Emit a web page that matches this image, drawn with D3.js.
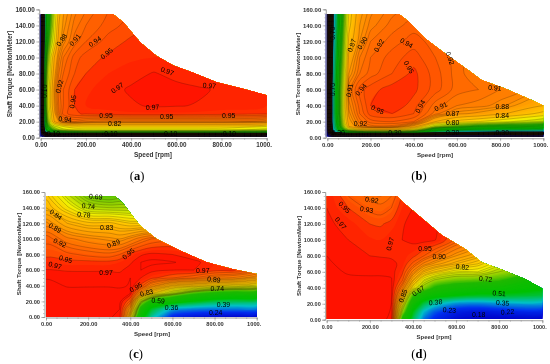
<!DOCTYPE html>
<html>
<head>
<meta charset="utf-8">
<script src="https://d3js.org/d3.v7.min.js"></script>
<style>
html, body { margin: 0; padding: 0; background: #fff; }
svg { display: block; filter: blur(0.3px); }
text { font-family: "Liberation Sans", Arial, sans-serif; }
</style>
</head>
<body>
<svg id="chart" width="550" height="364"></svg>
<script>
// grid axes, dense near the edges for the two panels with a black rim
var speedsRim = [0, 6, 20, 30, 45, 60, 80, 100, 150, 200, 300, 400, 500, 600, 700, 800, 1000];
var torquesRim = [0, 1, 4, 7, 10, 14, 20, 30, 40, 60, 80, 100, 120, 140, 160];
var speedsC = [0, 100, 200, 300, 350, 400, 450, 500, 600, 700, 800, 900, 1000];
var speedsD = [0, 100, 200, 250, 300, 350, 400, 450, 500, 600, 700, 800, 1000];
var torquesPlain = [0, 10, 20, 30, 40, 50, 60, 70, 80, 100, 120, 140, 160];

// efficiency, one row per torque (low to high), one column per speed
var gridA = [
    [.02, .02, .02, .02, .02, .02, .02, .02, .02, .02, .02, .02, .02, .02, .02, .02, .02],
    [.02, .03, .04, .05, .05, .05, .05, .05, .05, .05, .05, .05, .05, .05, .05, .05, .05],
    [.02, .04, .09, .10, .10, .10, .10, .10, .10, .10, .10, .10, .10, .10, .10, .10, .10],
    [.02, .05, .30, .42, .48, .52, .55, .58, .60, .62, .62, .62, .62, .62, .62, .62, .60],
    [.02, .06, .40, .56, .62, .68, .72, .74, .76, .76, .76, .76, .76, .76, .76, .76, .74],
    [.02, .07, .48, .62, .70, .74, .76, .78, .80, .80, .80, .80, .80, .80, .80, .80, .78],
    [.02, .08, .52, .68, .78, .84, .87, .90, .91, .90, .895, .895, .895, .895, .895, .895, .89],
    [.02, .08, .56, .72, .80, .86, .905, .935, .948, .952, .956, .958, .958, .958, .957, .956, .952],
    [.02, .08, .58, .74, .82, .87, .91, .93, .95, .96, .965, .968, .972, .971, .969, .965, .96],
    [.02, .08, .60, .74, .82, .875, .915, .93, .95, .958, .965, .972, .975, .974, .972, .968, .96],
    [.02, .07, .58, .72, .80, .86, .90, .92, .94, .95, .96, .965, .971, .966, .96, .96, .96],
    [.02, .06, .52, .68, .78, .84, .885, .91, .935, .945, .952, .958, .96, .96, .96, .96, .96],
    [.02, .05, .46, .62, .72, .78, .86, .885, .915, .93, .945, .952, .955, .955, .955, .955, .955],
    [.02, .05, .42, .58, .68, .76, .84, .875, .905, .92, .935, .945, .95, .95, .95, .95, .95],
    [.02, .05, .40, .55, .66, .74, .82, .865, .895, .91, .93, .94, .945, .945, .945, .945, .945]
];

var gridB = [
    [.02, .02, .02, .02, .02, .02, .02, .02, .02, .02, .02, .02, .02, .02, .02, .02, .02],
    [.02, .03, .04, .05, .05, .05, .05, .05, .05, .05, .05, .05, .05, .05, .05, .05, .05],
    [.02, .04, .08, .10, .10, .10, .10, .10, .10, .10, .10, .10, .09, .08, .08, .08, .08],
    [.02, .05, .20, .30, .36, .42, .50, .55, .60, .62, .62, .58, .42, .34, .32, .30, .30],
    [.02, .06, .24, .36, .46, .56, .66, .74, .80, .82, .82, .76, .55, .50, .48, .46, .44],
    [.02, .07, .26, .38, .50, .62, .74, .84, .89, .905, .905, .86, .72, .66, .62, .60, .58],
    [.02, .08, .28, .40, .52, .64, .78, .86, .905, .925, .93, .92, .84, .80, .78, .76, .72],
    [.02, .08, .28, .42, .54, .66, .79, .875, .92, .945, .95, .94, .905, .875, .865, .845, .80],
    [.02, .08, .28, .42, .54, .66, .80, .885, .925, .95, .958, .945, .915, .90, .895, .885, .84],
    [.02, .08, .28, .42, .54, .66, .78, .90, .935, .946, .955, .953, .935, .915, .91, .90, .88],
    [.02, .08, .26, .40, .52, .64, .76, .87, .91, .925, .94, .953, .935, .915, .90, .89, .88],
    [.02, .07, .24, .38, .50, .62, .74, .85, .90, .92, .935, .945, .93, .915, .90, .89, .88],
    [.02, .06, .22, .36, .48, .60, .72, .82, .88, .91, .925, .935, .925, .91, .90, .89, .88],
    [.02, .06, .20, .34, .46, .58, .70, .80, .87, .895, .915, .925, .92, .91, .90, .89, .88],
    [.02, .05, .20, .32, .44, .56, .68, .78, .86, .885, .905, .915, .915, .91, .90, .89, .88]
];

var gridC = [
    [.985, .985, .985, .982, .975, .80, .55, .40, .22, .17, .15, .14, .14],
    [.985, .985, .985, .985, .98, .86, .62, .48, .34, .31, .30, .30, .30],
    [.985, .985, .985, .985, .985, .93, .72, .62, .56, .50, .46, .45, .44],
    [.985, .985, .985, .985, .985, .98, .87, .80, .72, .66, .62, .60, .60],
    [.985, .979, .979, .979, .978, .981, .945, .89, .83, .81, .79, .78, .76],
    [.979, .976, .975, .975, .975, .98, .97, .955, .935, .92, .90, .89, .86],
    [.971, .969, .969, .969, .968, .975, .98, .975, .97, .97, .955, .95, .93],
    [.96, .955, .955, .955, .96, .968, .98, .983, .981, .975, .96, .95, .94],
    [.945, .94, .93, .925, .935, .955, .968, .974, .97, .96, .95, .94, .93],
    [.93, .90, .885, .875, .87, .885, .905, .92, .93, .93, .93, .93, .93],
    [.885, .84, .82, .82, .81, .80, .80, .80, .80, .80, .80, .80, .80],
    [.83, .78, .73, .72, .72, .72, .72, .72, .72, .72, .72, .72, .72],
    [.80, .73, .675, .66, .67, .67, .67, .67, .67, .67, .67, .67, .67]
];

var gridD = [
    [.985, .985, .985, .985, .975, .62, .45, .30, .22, .15, .13, .12, .12],
    [.985, .985, .985, .985, .979, .72, .50, .36, .28, .20, .18, .20, .22],
    [.985, .985, .985, .985, .98, .78, .58, .46, .39, .32, .31, .33, .34],
    [.985, .985, .985, .985, .982, .85, .66, .58, .54, .50, .48, .48, .46],
    [.985, .985, .985, .985, .983, .90, .78, .70, .64, .60, .58, .57, .52],
    [.985, .982, .982, .982, .981, .94, .84, .76, .72, .69, .68, .66, .56],
    [.983, .979, .978, .978, .977, .955, .89, .83, .80, .76, .76, .72, .66],
    [.982, .976, .975, .975, .975, .965, .93, .89, .865, .83, .80, .76, .70],
    [.98, .974, .97, .969, .967, .965, .955, .935, .91, .87, .84, .80, .74],
    [.976, .97, .962, .96, .967, .97, .975, .976, .972, .93, .90, .86, .80],
    [.973, .965, .95, .948, .955, .968, .976, .978, .975, .94, .90, .86, .80],
    [.97, .95, .93, .925, .935, .96, .97, .97, .97, .94, .90, .86, .80],
    [.968, .93, .91, .905, .915, .95, .965, .965, .965, .94, .90, .86, .80]
];

// operating limit of each panel: top torque against speed
var limitSpeedsA = [-6, 321, 366, 440, 513, 587, 675, 779, 882, 1000];
var limitTorquesA = [154, 154, 144, 119, 102, 90, 81, 69, 62, 53];
var limitSpeedsB = [-8, 332, 375, 452, 545, 653, 714, 807, 930, 1000];
var limitTorquesB = [154, 154, 145, 124, 105, 84, 72, 63, 49, 40];
var limitSpeedsC = [0, 328, 367, 446, 525, 636, 763, 889, 1000];
var limitTorquesC = [155, 155, 145, 117, 100, 85, 70, 61, 55];
var limitSpeedsD = [0, 325, 355, 425, 533, 641, 719, 811, 920, 1000];
var limitTorquesD = [155, 155, 147, 131, 106, 89, 72, 63, 51, 39];

// contour lines drawn per panel
var rimLines = d3.range(.03, .3, .005).concat(d3.range(.3, .6, .05), d3.range(.6, .88, .03));
var linesA = rimLines.concat([.88, .89, .90, .91, .92, .93, .94, .95, .97]);
var linesB = rimLines.concat([.88, .89, .90, .91, .92, .93, .94, .95]);
var linesC = [.69, .70, .71, .72, .735, .75, .76, .775, .79, .80, .815, .83, .84, .855, .87, .88, .895, .91, .92, .935, .95, .97, .98];
var linesD = [.72, .735, .75, .76, .775, .79, .80, .815, .83, .84, .855, .87, .88, .895, .91, .92, .935, .95, .97, .98];

// contour labels: text, speed, torque, rotation
var labelsA = [
    ["0.88", 93, 122, -55], ["0.91", 152, 122, -50], ["0.94", 240, 120, -35], ["0.95", 292, 105, -40],
    ["0.92", 83, 64, -75], ["0.95", 142, 45, -80], ["0.97", 339, 62, -35], ["0.97", 560, 83, 20],
    ["0.97", 746, 65, 5], ["0.97", 495, 38, -3], ["0.94", 108, 23, 5], ["0.95", 289, 27, 0],
    ["0.95", 557, 26, 0], ["0.95", 832, 28, 0], ["0.82", 327, 17, 0], ["0.10", 56, 5, 0],
    ["0.10", 311, 5, 0], ["0.10", 575, 5, 0], ["0.10", 835, 5, 0], ["0.10", 16, 58, -90]
];
var labelsB = [
    ["0.70", 23, 130, -90], ["0.70", 23, 60, -90], ["0.87", 113, 115, -70], ["0.90", 162, 118, -60],
    ["0.92", 239, 115, -60], ["0.94", 367, 118, 30], ["0.95", 378, 88, 60], ["0.91", 103, 59, -80],
    ["0.94", 156, 60, -50], ["0.95", 233, 35, 25], ["0.94", 430, 39, -60], ["0.92", 153, 17, 0],
    ["0.91", 526, 39, -25], ["0.92", 568, 99, 70], ["0.91", 776, 62, 5], ["0.88", 810, 39, 0],
    ["0.84", 810, 27, 0], ["0.87", 580, 30, 0], ["0.80", 580, 19, 0], ["0.30", 50, 6, 0],
    ["0.30", 313, 6, 0], ["0.30", 580, 6, 0], ["0.30", 810, 6, 0]
];
var labelsC = [
    ["0.69", 236, 154, 5], ["0.74", 201, 142, 5], ["0.78", 180, 131, 5], ["0.84", 47, 131, 35],
    ["0.83", 288, 115, 0], ["0.89", 43, 114, 30], ["0.92", 66, 95, 25], ["0.89", 320, 94, -20],
    ["0.95", 93, 74, 15], ["0.95", 391, 81, -40], ["0.97", 43, 66, 15], ["0.97", 285, 57, 0],
    ["0.97", 744, 60, 0], ["0.89", 797, 48, 5], ["0.74", 813, 36, 0], ["0.39", 842, 16, 0],
    ["0.24", 805, 6, 0], ["0.36", 596, 12, 0], ["0.59", 532, 21, 5], ["0.83", 478, 31, -15],
    ["0.95", 426, 38, -30]
];
var labelsD = [
    ["0.92", 209, 150, 10], ["0.95", 82, 141, 45], ["0.93", 185, 138, 10], ["0.97", 65, 121, 50],
    ["0.97", 294, 95, -75], ["0.95", 456, 89, 0], ["0.90", 522, 79, 0], ["0.82", 629, 66, 5],
    ["0.72", 737, 51, 5], ["0.51", 800, 33, 5], ["0.35", 816, 21, 5], ["0.22", 839, 10, -5],
    ["0.18", 705, 7, 0], ["0.23", 569, 12, 5], ["0.38", 505, 22, -5], ["0.67", 425, 36, -35],
    ["0.85", 354, 30, -70]
];

var speedTicks = [0, 200, 400, 600, 800, 1000];
var speedTickLabels = ["0.00", "200.00", "400.00", "600.00", "800.00", "1000."];
var speedMinor = d3.range(0, 1001, 50);
var torqueTicks = [0, 20, 40, 60, 80, 100, 120, 140, 160];
var torqueMinor = d3.range(0, 161, 5);

var colorStops = [0, .12, .24, .36, .50, .64, .70, .76, .80, .86, .90, .94, .95, .96, .97, 1];
var colorRamp = ["#00009c", "#0000c8", "#0030f0", "#00c0c8", "#00c000", "#20b800", "#90d000", "#f0f000", "#ffc800", "#ff9c00", "#ff7400", "#ff4c00", "#ff2e00", "#ff2400", "#ff1400", "#ff0e00"];

var effColor = d3.scaleLinear().domain(colorStops).range(colorRamp);
var svg = d3.select("#chart");

function drawPanel(p) {
    var x = d3.scaleLinear().domain([0, 1000]).range([p.x0, p.x1]);
    var y = d3.scaleLinear().domain([0, 160]).range([p.y0, p.y1]);
    var g = svg.append("g");

    // grid index to data coordinates, uneven grid so piecewise
    var ix = d3.scaleLinear().domain(d3.range(p.speeds.length)).range(p.speeds);
    var iy = d3.scaleLinear().domain(d3.range(p.torques.length)).range(p.torques);

    g.append("clipPath").attr("id", "clip" + p.id).append("path")
        .attr("d", d3.area()
            .x(function (d) { return x(d[0]); })
            .y0(y(p.base))
            .y1(function (d) { return y(d[1]); })(d3.zip(p.limitS, p.limitT)));

    var plot = g.append("g").attr("clip-path", "url(#clip" + p.id + ")");
    plot.append("rect").attr("x", p.x0 - 10).attr("y", p.y1 - 5)
        .attr("width", p.x1 - p.x0 + 20).attr("height", p.y0 - p.y1 + 15)
        .attr("fill", effColor(p.floor));

    var values = d3.merge(p.grid);
    var contours = d3.contours().size([p.speeds.length, p.torques.length]);
    var curve = d3.line().curve(d3.curveCatmullRomClosed.alpha(0.5));

    function ringPath(multi) {
        var out = "";
        multi.coordinates.forEach(function (poly) {
            poly.forEach(function (ring) {
                var pts = ring.slice(0, -1).map(function (c) {
                    return [x(ix(c[0] - 0.5)), y(iy(c[1] - 0.5))];
                });
                out += curve(pts);
            });
        });
        return out;
    }

    // fine colour bands first, then the thin contour lines on top
    contours.thresholds(d3.range(p.floor + .01, .99, .01))(values).forEach(function (c) {
        plot.append("path").attr("d", ringPath(c))
            .attr("fill-rule", "evenodd")
            .attr("fill", effColor(c.value));
    });
    contours.thresholds(p.lines)(values).forEach(function (c) {
        plot.append("path").attr("d", ringPath(c))
            .attr("fill", "none")
            .attr("stroke", "#1a1000")
            .attr("stroke-opacity", c.value < .3 ? 1 : 0.42)
            .attr("stroke-width", 0.5);
    });

    // axes: minor marks under the labelled ticks
    var fmt = d3.format(".2f");
    g.append("g").attr("transform", "translate(0," + (p.y0 + 0.5) + ")")
        .call(d3.axisBottom(x).tickValues(speedMinor).tickSize(1.5).tickFormat(""))
        .call(styleAxis);
    g.append("g").attr("transform", "translate(" + (p.x0 - 1.5) + ",0)")
        .call(d3.axisLeft(y).tickValues(torqueMinor).tickSize(1.5).tickFormat(""))
        .call(styleAxis);
    var xAxis = g.append("g").attr("transform", "translate(0," + (p.y0 + 0.5) + ")")
        .call(d3.axisBottom(x).tickValues(speedTicks).tickSize(3).tickPadding(1.5)
            .tickFormat(function (d, i) { return speedTickLabels[i]; }))
        .call(styleAxis).call(styleLabels, p.tickFont);
    // the last label is cut short in the original, it starts where the full one would
    xAxis.selectAll(".tick text").filter(function (d) { return d === 1000; }).attr("dx", -3);
    g.append("g").attr("transform", "translate(" + (p.x0 - 1.5) + ",0)")
        .call(d3.axisLeft(y).tickValues(torqueTicks).tickSize(3).tickPadding(1.5).tickFormat(fmt))
        .call(styleAxis).call(styleLabels, p.tickFont);

    g.append("text").attr("x", p.xTitle[0]).attr("y", p.xTitle[1])
        .attr("text-anchor", "middle").attr("dy", "0.35em")
        .attr("font-size", p.titleFont).attr("font-weight", "bold").attr("fill", "#333")
        .text("Speed [rpm]");
    g.append("text")
        .attr("transform", "translate(" + p.yTitle[0] + "," + p.yTitle[1] + ") rotate(-90)")
        .attr("text-anchor", "middle").attr("dy", "0.35em")
        .attr("font-size", p.titleFont).attr("font-weight", "bold").attr("fill", "#333")
        .text("Shaft Torque [NewtonMeter]");

    g.selectAll(".lab").data(p.labels).enter().append("text")
        .attr("class", "lab")
        .attr("transform", function (d) {
            return "translate(" + x(d[1]) + "," + y(d[2]) + ") rotate(" + d[3] + ")";
        })
        .attr("text-anchor", "middle").attr("dy", "0.35em")
        .attr("font-size", 6.9).attr("fill", "#000")
        .text(function (d) { return d[0]; });

    var cap = g.append("text").attr("x", p.caption[0]).attr("y", p.caption[1])
        .attr("text-anchor", "middle").attr("dy", "0.35em")
        .attr("font-size", 12.5).attr("fill", "#000")
        .style("font-family", "'Liberation Serif', serif");
    cap.append("tspan").text("(");
    cap.append("tspan").attr("font-weight", "bold").text(p.id);
    cap.append("tspan").text(")");
}

function styleAxis(sel) {
    sel.select(".domain").attr("stroke", "#999").attr("stroke-width", 0.6);
    sel.selectAll(".tick line").attr("stroke", "#888").attr("stroke-width", 0.5);
}

function styleLabels(sel, size) {
    sel.selectAll(".tick text")
        .attr("font-size", size).attr("font-weight", "bold").attr("fill", "#333")
        .style("font-family", "'Liberation Sans', sans-serif");
}

drawPanel({
    id: "a", x0: 40.7, x1: 266.7, y0: 137.7, y1: 9.4, base: 1.2, floor: .02,
    speeds: speedsRim, torques: torquesRim, grid: gridA, lines: linesA, labels: labelsA,
    limitS: limitSpeedsA, limitT: limitTorquesA, tickFont: 6.3, titleFont: 6.5,
    xTitle: [153, 155], yTitle: [10, 74], caption: [137, 176]
});
drawPanel({
    id: "b", x0: 327.3, x1: 543.3, y0: 137.7, y1: 9.3, base: 1.2, floor: .02,
    speeds: speedsRim, torques: torquesRim, grid: gridB, lines: linesB, labels: labelsB,
    limitS: limitSpeedsB, limitT: limitTorquesB, tickFont: 6, titleFont: 6.2,
    xTitle: [435, 155], yTitle: [297.7, 74], caption: [419, 176]
});
drawPanel({
    id: "c", x0: 46, x1: 256.7, y0: 317, y1: 192, base: 0, floor: .12,
    speeds: speedsC, torques: torquesPlain, grid: gridC, lines: linesC, labels: labelsC,
    limitS: limitSpeedsC, limitT: limitTorquesC, tickFont: 5.7, titleFont: 6.2,
    xTitle: [152, 334], yTitle: [19.3, 254], caption: [136, 354]
});
drawPanel({
    id: "d", x0: 326.7, x1: 542.3, y0: 319.7, y1: 192, base: 1, floor: .1,
    speeds: speedsD, torques: torquesPlain, grid: gridD, lines: linesD, labels: labelsD,
    limitS: limitSpeedsD, limitT: limitTorquesD, tickFont: 5.5, titleFont: 6,
    xTitle: [434, 336.7], yTitle: [299, 256], caption: [419, 354]
});
</script>
</body>
</html>
